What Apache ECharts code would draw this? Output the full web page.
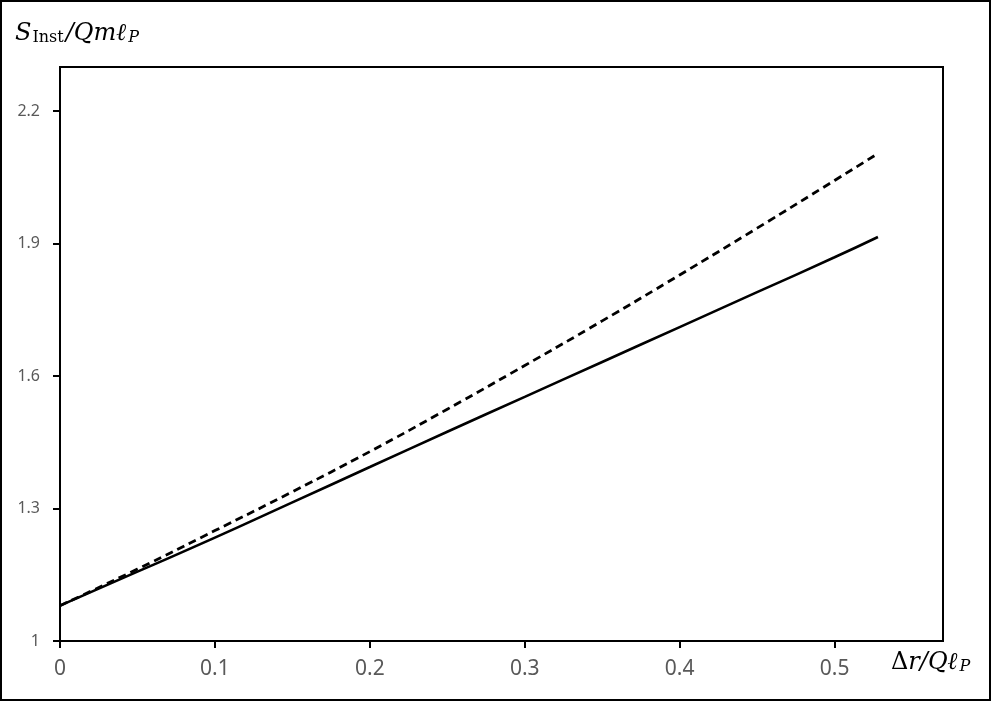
<!DOCTYPE html>
<html>
<head>
<meta charset="utf-8">
<script src="https://cdn.jsdelivr.net/npm/echarts@6/dist/echarts.min.js"></script>
<style>
html, body { margin: 0; padding: 0; background: #fff; }
#chart { width: 991px; height: 701px; }
</style>
</head>
<body>
<div id="chart"></div>
<script>
// data
var xVals = [0, 0.05, 0.1, 0.15, 0.2, 0.25, 0.3, 0.35, 0.4, 0.45, 0.5, 0.528];
var solidVals = [1.08, 1.157, 1.234, 1.314, 1.394, 1.474, 1.553, 1.632, 1.711, 1.790, 1.869, 1.915];
var dashedVals = [1.08, 1.163, 1.250, 1.338, 1.429, 1.525, 1.624, 1.725, 1.829, 1.935, 2.043, 2.104];
var xTicks = [0, 0.1, 0.2, 0.3, 0.4, 0.5];
var yTicks = [1, 1.3, 1.6, 1.9, 2.2];

function pairs(xs, ys) {
    var out = [];
    for (var i = 0; i < xs.length; i++) out.push([xs[i], ys[i]]);
    return out;
}

var myChart = echarts.init(document.getElementById('chart'));
var serif = 'DejaVu Serif';
var option = {
    animation: false,
    grid: {
        show: true,
        left: 60,
        top: 67,
        right: 48,
        bottom: 60,
        borderColor: '#000',
        borderWidth: 2
    },
    xAxis: {
        type: 'value',
        min: 0,
        max: 0.57,
        splitLine: { show: false },
        axisLine: { show: true, lineStyle: { color: '#000', width: 2 } },
        axisTick: { show: true, length: 7, customValues: xTicks, lineStyle: { color: '#000', width: 2 } },
        axisLabel: {
            customValues: xTicks,
            margin: 18,
            fontSize: 21,
            color: '#595959',
            fontFamily: 'Noto Sans'
        }
    },
    yAxis: {
        type: 'value',
        min: 1,
        max: 2.3,
        splitLine: { show: false },
        axisLine: { show: true, lineStyle: { color: '#000', width: 2 } },
        axisTick: { show: true, length: 7, customValues: yTicks, lineStyle: { color: '#000', width: 2 } },
        axisLabel: {
            customValues: yTicks,
            margin: 20,
            fontSize: 16,
            color: '#595959',
            fontFamily: 'Noto Sans'
        }
    },
    graphic: [
        {
            type: 'rect',
            shape: { x: 1, y: 1, width: 989, height: 699 },
            style: { fill: 'none', stroke: '#000', lineWidth: 2 },
            silent: true
        },
        {
            type: 'text',
            left: 15,
            top: 22,
            style: {
                text: '{a|S}{b|Inst}{a|/Qmℓ}{c|P}',
                rich: {
                    a: { fontFamily: serif, fontStyle: 'italic', fontSize: 24, lineHeight: 38, verticalAlign: 'bottom', fill: '#000' },
                    b: { fontFamily: serif, fontSize: 16, lineHeight: 16, padding: [0, 2, 0, 1], verticalAlign: 'bottom', fill: '#000' },
                    c: { fontFamily: serif, fontStyle: 'italic', fontSize: 16, lineHeight: 14, padding: [0, 0, 0, 2], verticalAlign: 'bottom', fill: '#000' }
                }
            }
        },
        {
            type: 'text',
            left: 891,
            top: 651,
            style: {
                text: '{d|Δ}{a|r/Qℓ}{c|P}',
                rich: {
                    d: { fontFamily: serif, fontSize: 24, lineHeight: 38, verticalAlign: 'bottom', fill: '#000' },
                    a: { fontFamily: serif, fontStyle: 'italic', fontSize: 24, lineHeight: 38, verticalAlign: 'bottom', fill: '#000' },
                    c: { fontFamily: serif, fontStyle: 'italic', fontSize: 16, lineHeight: 14, padding: [0, 0, 0, 2], verticalAlign: 'bottom', fill: '#000' }
                }
            }
        }
    ],
    series: [
        {
            type: 'line',
            data: pairs(xVals, solidVals),
            smooth: true,
            showSymbol: false,
            lineStyle: { color: '#000', width: 2.6 }
        },
        {
            type: 'line',
            data: pairs(xVals, dashedVals),
            smooth: true,
            showSymbol: false,
            lineStyle: { color: '#000', width: 2.8, type: [8, 5] }
        }
    ]
};
myChart.setOption(option);
</script>
</body>
</html>
